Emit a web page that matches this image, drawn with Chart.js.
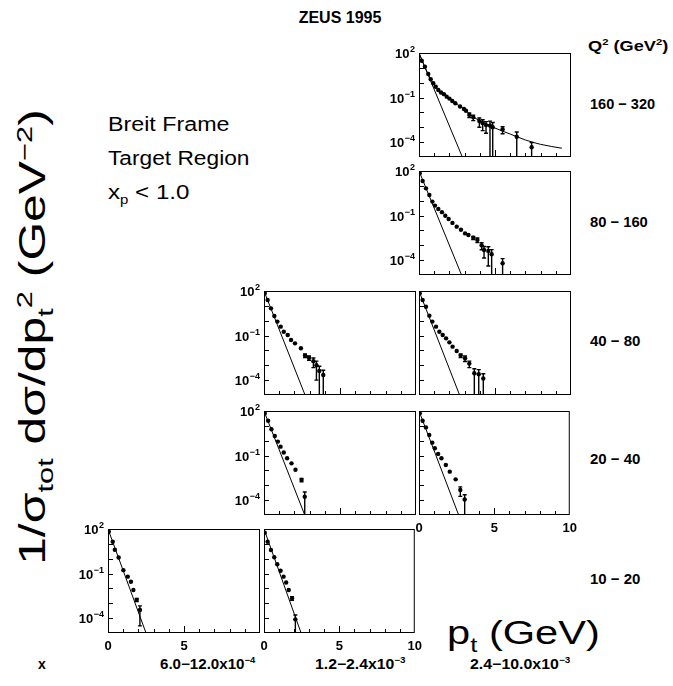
<!DOCTYPE html>
<html>
<head>
<meta charset="utf-8">
<script src="https://cdn.jsdelivr.net/npm/chart.js@4.4.1/dist/chart.umd.min.js"></script>
<style>
  body { margin: 0; background: #fff; }
  #page { position: relative; width: 673px; height: 686px; overflow: hidden;
          font-family: "Liberation Sans", Arial, sans-serif; color: #000; }
  #page canvas { position: absolute; }
  .t { position: absolute; white-space: nowrap; line-height: 1; transform-origin: 0 50%; }
  .t sup, .t sub { font-size: 62%; line-height: 0; }
  .b { font-weight: bold; }
</style>
</head>
<body>
<div id="page">
  <div class="t b" style="left:340px;top:10px;font-size:16px;transform:translateX(-50%)">ZEUS 1995</div>
  <div class="t b" data-w="80" style="left:588px;top:38px;font-size:15px">Q<sup>2</sup> (GeV<sup>2</sup>)</div>
  <div class="t b" data-w="65" style="left:590px;top:96px;font-size:15px">160 &minus; 320</div>
  <div class="t b" data-w="58" style="left:590px;top:214px;font-size:15px">80 &minus; 160</div>
  <div class="t b" data-w="50" style="left:590px;top:333px;font-size:15px">40 &minus; 80</div>
  <div class="t b" data-w="50" style="left:590px;top:451px;font-size:15px">20 &minus; 40</div>
  <div class="t b" data-w="50" style="left:590px;top:571px;font-size:15px">10 &minus; 20</div>
  <div class="t" data-w="121" style="left:108px;top:114px;font-size:20px">Breit Frame</div>
  <div class="t" data-w="142" style="left:108px;top:148px;font-size:20px">Target Region</div>
  <div class="t" data-w="82" style="left:108px;top:182px;font-size:20px">x<sub>p</sub> &lt; 1.0</div>
  <div class="t" id="ytitle" style="left:33px;top:337px;font-size:36px">1/&sigma;<sub>tot</sub> d&sigma;/dp<sub>t</sub><sup>2</sup> (GeV<sup>&minus;2</sup>)</div>
  <div class="t" data-w="153" style="left:447px;top:615px;font-size:34px">p<sub>t</sub> (GeV)</div>
  <div class="t b" style="left:38px;top:657px;font-size:14px">x</div>
  <div class="t b" data-w="95" style="left:160px;top:657px;font-size:14px">6.0&minus;12.0x10<sup>&minus;4</sup></div>
  <div class="t b" data-w="90" style="left:315px;top:657px;font-size:14px">1.2&minus;2.4x10<sup>&minus;3</sup></div>
  <div class="t b" data-w="100" style="left:470px;top:657px;font-size:14px">2.4&minus;10.0x10<sup>&minus;3</sup></div>
</div>
<script>
// Q2 160-320, x 2.4-10.0e-3
const ptA  = [0.18,0.39,0.61,0.77,0.94,1.1,1.27,1.45,1.64,1.82,2.0,2.19,2.39,2.7,2.96,3.09,3.31,3.57,3.97,4.19,4.41,4.67,4.85,5.5,6.43,7.41];
const valA = [30,12,3.9,1.7,0.91,0.54,0.32,0.22,0.17,0.115,0.085,0.059,0.041,0.025,0.017,0.013,0.0068,0.0047,0.0026,0.0019,0.0014,0.0013,0.001,7.4e-4,2.3e-4,4.5e-5];
const errA = [0,0,0,0,0,0,0,0,0,0,0,0,0,0,0,0,0.0023,0.0019,0.0016,0.0013,0.001,0.0013,0.0011,3.7e-4,2.5e-4,5e-5];
const fitPtA  = [0,0.5,1,1.5,2,2.5,3,3.5,4,5,6,7,8,9.4];
const fitValA = [100,6.3,0.71,0.2,0.085,0.035,0.016,0.0056,0.0028,8.9e-4,3.5e-4,1.4e-4,7.1e-5,3.9e-5];

// Q2 80-160, x 2.4-10.0e-3
const ptB  = [0.05,0.24,0.46,0.68,0.88,1.05,1.27,1.51,1.73,1.95,2.2,2.48,2.76,3.03,3.25,3.57,3.84,4.12,4.28,4.56,4.78,5.5];
const valB = [70,21,6.8,2.4,0.87,0.47,0.28,0.17,0.098,0.059,0.032,0.018,0.011,0.0063,0.0049,0.0032,0.0023,0.001,4.8e-4,4.2e-4,2.5e-4,6.2e-5];
const errB = [0,0,0,0,0,0,0,0,0,0,0,0,0,0,0,8e-4,8e-4,5e-4,3.4e-4,3.8e-4,2.6e-4,6.5e-5];

// Q2 40-80, x 1.2-2.4e-3
const ptC  = [0.05,0.24,0.46,0.68,0.88,1.1,1.3,1.56,1.78,2.04,2.43,2.7,2.96,3.25,3.45,3.64,3.9];
const valC = [71,25,6.8,2.1,0.87,0.4,0.18,0.11,0.05,0.03,0.014,0.0045,0.0032,0.0019,0.001,4.2e-4,2.2e-4];
const errC = [0,0,0,0,0,0,0,0,0,0,0,0.0012,0.001,0.0012,9e-4,4.5e-4,2.4e-4];

// Q2 40-80, x 2.4-10.0e-3
const ptD  = [0.05,0.24,0.46,0.68,0.88,1.12,1.34,1.56,1.78,2.0,2.21,2.48,2.74,3.03,3.31,3.64,3.93,4.23];
const valD = [71,25,8.7,2.2,0.87,0.4,0.18,0.11,0.065,0.035,0.018,0.0091,0.0045,0.003,0.0013,2.9e-4,2.5e-4,1.3e-4];
const errD = [0,0,0,0,0,0,0,0,0,0,0,0,0.0012,0.0012,6e-4,3e-4,2.6e-4,1.4e-4];

// Q2 20-40, x 1.2-2.4e-3
const ptE  = [0.05,0.27,0.49,0.71,0.91,1.09,1.3,1.52,1.81,2.07,2.47,2.68];
const valE = [71,22,5.9,2.1,0.87,0.4,0.16,0.066,0.03,0.011,0.0023,1.7e-4];
const errE = [0,0,0,0,0,0,0,0,0,0,6e-4,1.8e-4];

// Q2 20-40, x 2.4-10.0e-3
const ptF  = [0.05,0.24,0.46,0.68,0.88,1.05,1.27,1.49,1.78,2.04,2.43,2.74,3.03];
const valF = [71,22,7.9,2.4,0.74,0.31,0.13,0.066,0.023,0.0083,0.0025,4.8e-4,1.1e-4];
const errF = [0,0,0,0,0,0,0,0,0,0,0,3e-4,1.2e-4];

// Q2 10-20, x 6.0-12.0e-4
const ptG  = [0.05,0.31,0.45,0.7,1.01,1.3,1.51,1.67,1.89,2.1];
const valG = [66,14,4,1.2,0.17,0.062,0.028,0.0079,0.0017,3.5e-4];
const errG = [0,0,0,0,0,0,0,0,4e-4,3.2e-4];

// Q2 10-20, x 1.2-2.4e-3
const ptH  = [0.05,0.24,0.46,0.68,0.88,1.1,1.3,1.47,1.64,1.86,2.08];
const valH = [56,14,3.9,1.26,0.42,0.155,0.062,0.025,0.0079,0.0022,8.3e-5];
const errH = [0,0,0,0,0,0,0,0,0,6e-4,8e-5];

// straight exponential line: from (0, 1e2) down to (end, 1e-5)
const steepEnd = [2.85, 2.8, 2.7, 2.67, 2.68, 2.63, 2.5, 2.46];

const yTickVals = [1e2, 1e-1, 1e-4];
const yTickExp = ['2', '\u22121', '\u22124'];
const yMarks = [1e1, 1, 1e-1, 1e-2, 1e-3, 1e-4];

// stretch labels to the widths they have in the picture
document.querySelectorAll('.t[data-w]').forEach(el => {
  const k = +el.dataset.w / el.offsetWidth;
  el.style.transform = 'scaleX(' + k.toFixed(3) + ')';
});
const yt = document.getElementById('ytitle');
const yk = 455 / yt.offsetWidth;
yt.style.transformOrigin = '50% 50%';
yt.style.transform = 'translate(-50%,-50%) rotate(-90deg) scaleX(' + yk.toFixed(3) + ')';

const panelFrame = {
  id: 'panelFrame',
  afterDatasetsDraw(chart, args, opts) {
    const { ctx, chartArea: a, scales: { x, y } } = chart;
    ctx.save();
    ctx.beginPath();
    ctx.rect(a.left, a.top, a.width, a.height);
    ctx.clip();
    ctx.strokeStyle = '#000';
    ctx.lineWidth = 1.4;
    chart.data.datasets.forEach(ds => {
      if (!ds.err) return;
      ds.data.forEach((p, i) => {
        const e = ds.err[i];
        if (!e) return;
        const px = x.getPixelForValue(p.x);
        const hi = y.getPixelForValue(p.y + e);
        const lowOk = p.y - e > 0;
        const lo = lowOk ? y.getPixelForValue(p.y - e) : a.bottom;
        ctx.beginPath();
        ctx.moveTo(px, hi); ctx.lineTo(px, lo);
        ctx.moveTo(px - 2, hi); ctx.lineTo(px + 2, hi);
        if (lowOk) { ctx.moveTo(px - 2, lo); ctx.lineTo(px + 2, lo); }
        ctx.stroke();
      });
    });
    ctx.restore();

    ctx.save();
    ctx.strokeStyle = '#000';
    ctx.lineWidth = 1;
    ctx.strokeRect(a.left + 0.5, a.top + 0.5, a.width - 1, a.height - 1);
    ctx.beginPath();
    yMarks.forEach(v => {
      const py = Math.round(y.getPixelForValue(v)) + 0.5;
      ctx.moveTo(a.left, py); ctx.lineTo(a.left + 5, py);
    });
    for (let v = 1; v < 10; v++) {
      const px = Math.round(x.getPixelForValue(v)) + 0.5;
      ctx.moveTo(px, a.bottom); ctx.lineTo(px, a.bottom - (v === 5 ? 7 : 4));
    }
    ctx.stroke();

    // 10^n labels with a real superscript
    if (opts.labels) {
      ctx.fillStyle = '#000';
      ctx.textBaseline = 'alphabetic';
      yTickVals.forEach((v, i) => {
        const py = y.getPixelForValue(v);
        ctx.font = 'bold 9px "Liberation Sans"';
        const ew = ctx.measureText(yTickExp[i]).width;
        const right = a.left - 4;
        ctx.textAlign = 'right';
        ctx.fillText(yTickExp[i], right, py - 1);
        ctx.font = 'bold 13px "Liberation Sans"';
        ctx.fillText('10', right - ew - 0.5, py + 5);
      });
    }
    ctx.restore();
  }
};

const panels = [
  { left: 419, top: 53,  pt: ptA, val: valA, err: errA, fit: true, yl: true,  xl: false },
  { left: 419, top: 171, pt: ptB, val: valB, err: errB, yl: true,  xl: false },
  { left: 264, top: 291, pt: ptC, val: valC, err: errC, yl: true,  xl: false },
  { left: 419, top: 291, pt: ptD, val: valD, err: errD, yl: false, xl: false },
  { left: 264, top: 411, pt: ptE, val: valE, err: errE, yl: true,  xl: false },
  { left: 419, top: 411, pt: ptF, val: valF, err: errF, yl: false, xl: true },
  { left: 108, top: 529, pt: ptG, val: valG, err: errG, yl: true,  xl: true, noTen: true },
  { left: 264, top: 529, pt: ptH, val: valH, err: errH, yl: false, xl: true }
];

const AXW = 45, PAD = 12, W = 152, H = 104, XAH = 24;
const page = document.getElementById('page');

panels.forEach((p, k) => {
  const cv = document.createElement('canvas');
  cv.width = AXW + W + PAD;
  cv.height = PAD + H + XAH;
  cv.style.left = (p.left - AXW) + 'px';
  cv.style.top = (p.top - PAD) + 'px';
  page.appendChild(cv);

  const datasets = [{
    type: 'line',
    data: [{ x: 0, y: 1e2 }, { x: steepEnd[k], y: 1e-5 }],
    borderColor: '#000', borderWidth: 1, pointRadius: 0, clip: 0
  }];
  if (p.fit) {
    datasets.push({
      type: 'line',
      data: fitPtA.map((v, i) => ({ x: v, y: fitValA[i] })),
      borderColor: '#000', borderWidth: 1, pointRadius: 0,
      cubicInterpolationMode: 'monotone', clip: 0
    });
  }
  datasets.push({
    type: 'scatter',
    data: p.pt.map((v, i) => ({ x: v, y: p.val[i] })),
    err: p.err,
    pointRadius: 2.2, pointBorderWidth: 0,
    backgroundColor: '#000', clip: 0
  });

  new Chart(cv.getContext('2d'), {
    data: { datasets },
    options: {
      responsive: false, animation: false, devicePixelRatio: 1,
      layout: { padding: { top: PAD, right: PAD, left: 0, bottom: 0 } },
      plugins: {
        legend: { display: false }, tooltip: { enabled: false },
        panelFrame: { labels: p.yl }
      },
      scales: {
        x: {
          type: 'linear', min: 0, max: 10,
          grid: { display: false, drawTicks: false }, border: { display: false },
          ticks: {
            display: p.xl, stepSize: 5, padding: 6, maxRotation: 0, color: '#000',
            font: { family: 'Liberation Sans', size: 13, weight: 'bold' },
            callback: v => (p.noTen && v === 10) ? '' : String(v)
          },
          afterFit: s => { s.height = XAH; }
        },
        y: {
          type: 'logarithmic', min: 1e-5, max: 1e2,
          grid: { display: false, drawTicks: false }, border: { display: false },
          afterBuildTicks: s => { s.ticks = yTickVals.map(v => ({ value: v })); },
          ticks: { display: false },
          afterFit: s => { s.width = AXW; }
        }
      }
    },
    plugins: [panelFrame]
  });
});
</script>
</body>
</html>
